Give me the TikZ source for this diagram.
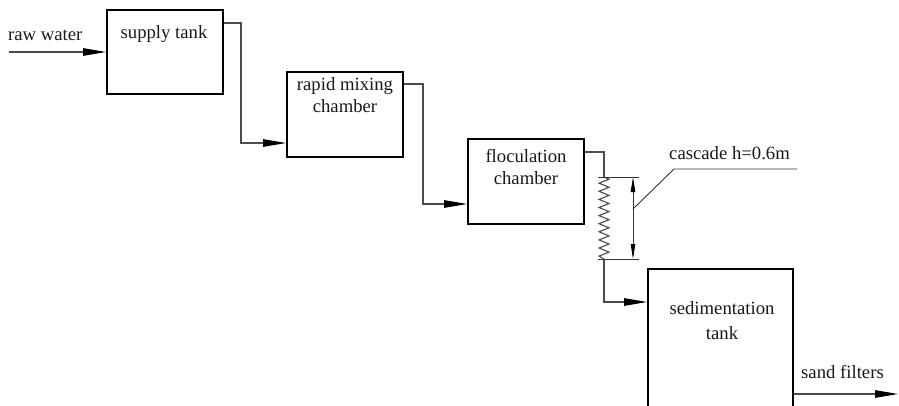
\documentclass[tikz,border=0pt]{standalone}
\usepackage{fontspec}
\setmainfont{Liberation Serif}
\usetikzlibrary{arrows.meta,calc}
\begin{document}
\begin{tikzpicture}[x=1pt,y=-1pt,
  tank/.style={draw=black,line width=1.9pt,inner sep=0pt},
  flow/.style={draw=black!70,line width=1.1pt,-{Triangle[length=23pt,width=7.5pt,color=black]}},
  pipe/.style={draw=black!70,line width=1.1pt},
  dim/.style={draw=black!80,line width=0.9pt},
  txt/.style={font=\fontsize{18.7}{22}\selectfont,inner sep=0pt,text=black!90}]
\useasboundingbox (0,0) rectangle (899,405);
% boxes
\node[tank,minimum width=116pt,minimum height=84pt] (sup) at (165,52) {};
\node[tank,minimum width=116pt,minimum height=85pt] (rap) at (345,114.5) {};
\node[tank,minimum width=116pt,minimum height=85pt] (flo) at (526,181.5) {};
\node[tank,minimum width=145pt,minimum height=160pt] (sed) at (720.5,349) {};
% texts
\node[txt,anchor=base west] (trw) at (8,40) {raw water};
\node[txt,anchor=base] (tsup) at (164,38) {supply tank};
\node[txt,anchor=base] (trap1) at (345,90) {rapid mixing};
\node[txt,anchor=base] (trap2) at (345,112) {chamber};
\node[txt,anchor=base] (tflo1) at (526,162) {floculation};
\node[txt,anchor=base] (tflo2) at (526,184) {chamber};
\node[txt,anchor=base] (tsed1) at (722,314) {sedimentation};
\node[txt,anchor=base] (tsed2) at (722,339) {tank};
\node[txt,anchor=base west] (tcas) at (669,159) {cascade h=0.6m};
\node[txt,anchor=base west] (tsand) at (801,378) {sand filters};
% coordinates
\coordinate (rw) at (9,52);
\coordinate (b1) at (241,23);
\coordinate (b2) at (423,84);
\coordinate (b3) at (604,152);
\coordinate (z0) at (604,177);
\coordinate (z1) at (604,259);
\coordinate (b4) at (604,302);
\coordinate (out) at (898,394);
% connectors
\draw[flow] (rw) -- (sup.west);
\draw[flow] (sup.east |- b1) -- (b1) |- (rap.west |- 0,143);
\draw[flow] (rap.east |- b2) -- (b2) |- (flo.west |- 0,204);
\draw[pipe] (flo.east |- b3) -- (b3) -- (z0);
\draw[pipe] (z0) \foreach \i in {0,...,9} { -- (609,{179.2+\i*8.1}) -- (599,{183.2+\i*8.1}) } -- (z1);
\draw[flow] (z1) -- (b4) -- (sed.west |- b4);
\draw[flow] (sed.east |- out) -- (out);
% dimension
\coordinate (e1a) at (598,177);
\coordinate (e1b) at (639,177);
\coordinate (e2a) at (598,259);
\coordinate (e2b) at (639,259);
\coordinate (d1) at (633,177);
\coordinate (d2) at (633,259);
\coordinate (l1) at (633,209);
\coordinate (l2) at (674,169);
\coordinate (l3) at (797,169);
\draw[dim] (e1a) -- (e1b);
\draw[dim] (e2a) -- (e2b);
\draw[dim,{Triangle[length=15pt,width=4.5pt,color=black]}-{Triangle[length=15pt,width=4.5pt,color=black]}] (d1) -- (d2);
\draw[dim] (l1) -- (l2) -- (l3);
\end{tikzpicture}
\end{document}
